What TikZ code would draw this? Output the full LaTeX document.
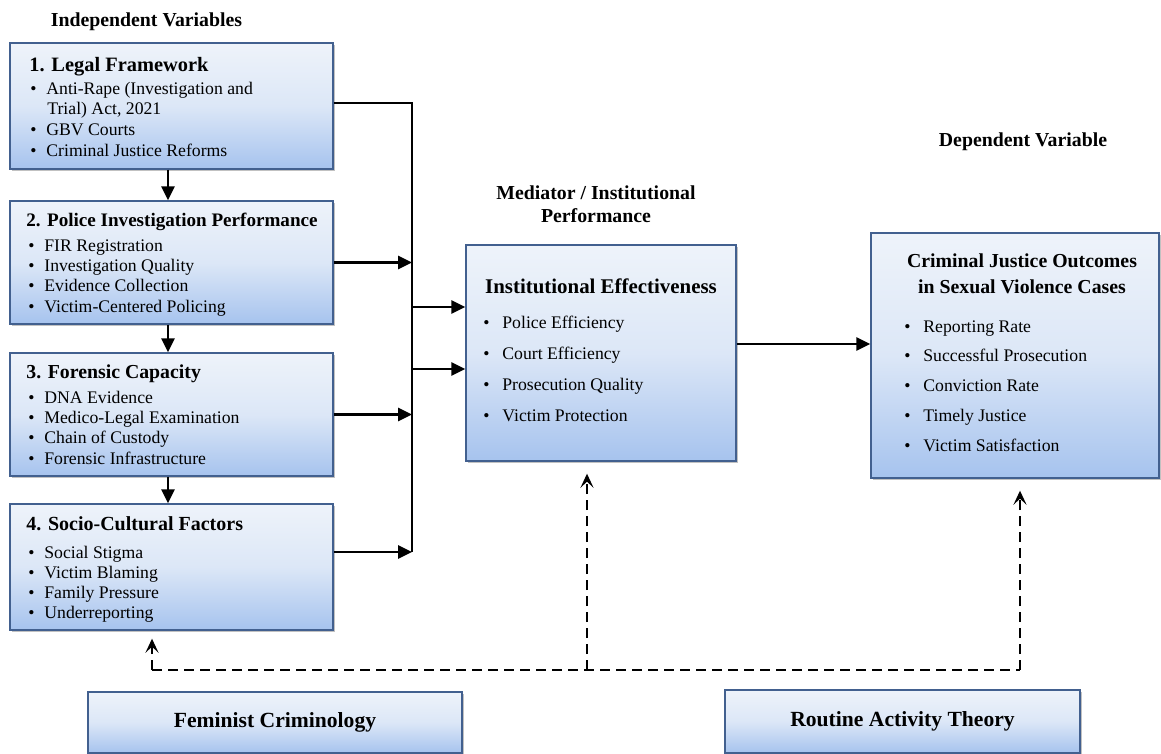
\documentclass[tikz,border=0pt]{standalone}
\usepackage{fontspec}
\setmainfont{Liberation Serif}
\usetikzlibrary{arrows.meta,shadows,calc}
\definecolor{boxtop}{HTML}{EEF3FA}
\definecolor{boxmid}{HTML}{DCE7F7}
\definecolor{boxbot}{HTML}{A6C3EE}
\definecolor{boxline}{HTML}{42608F}
\newcommand\bulA{\makebox[8pt][l]{\textbullet}}
\newcommand\bulB{\makebox[9.5pt][l]{\textbullet}}
\newcommand\itemlistA[5]{%
  \foreach \t [count=\i] in {#5} {\node[item] (#1-\i) at (#2,{#3+(\i-1)*#4}) {\bulA\t};}}
\newcommand\itemlistB[5]{%
  \foreach \t [count=\i] in {#5} {\node[item] (#1-\i) at (#2,{#3+(\i-1)*#4}) {\bulB\t};}}
\begin{document}
\begin{tikzpicture}[x=0.5pt,y=-0.5pt,
  box/.style={draw=boxline, line width=0.7pt, top color=boxtop, bottom color=boxbot, middle color=boxmid,
    drop shadow={shadow xshift=1pt, shadow yshift=-1.2pt, opacity=0.35, fill=black!70},
    inner sep=0pt, anchor=center},
  head/.style={font=\fontsize{10.2}{12}\bfseries, anchor=base west, inner sep=0pt},
  item/.style={font=\fontsize{8.85}{10}\selectfont, anchor=base west, inner sep=0pt},
  sect/.style={font=\fontsize{9.9}{12}\bfseries, anchor=base, inner sep=0pt},
  theory/.style={font=\fontsize{10.8}{13}\bfseries},
  line/.style={line width=1.3pt},
  arr/.style={line width=1.3pt, -{Triangle[length=7pt,width=6.5pt]}},
  dsh/.style={line width=1.1pt, dash pattern=on 5pt off 3pt},
  darr/.style={dsh, -{Stealth[length=7pt,width=6.5pt,inset=3pt]}}]
\useasboundingbox (0,0) rectangle (1161,754);

% section labels
\node[sect] (lind) at (146.5,27) {Independent Variables};
\node[sect] (lmed1) at (596,200) {Mediator / Institutional};
\node[sect] (lmed2) at (596,223) {Performance};
\node[sect] (ldep) at (1023,147) {Dependent Variable};

% left boxes
\node[box, minimum width=161.5pt, minimum height=63pt] (b1) at (171.5,106) {};
\node[box, minimum width=161.5pt, minimum height=61.5pt] (b2) at (171.5,262.5) {};
\node[box, minimum width=161.5pt, minimum height=61.5pt] (b3) at (171.5,414.5) {};
\node[box, minimum width=161.5pt, minimum height=63pt] (b4) at (171.5,567) {};

\node[head] (h1) at (29,72) {1. Legal Framework};
\node[item] (i1-1) at (30,95) {\bulA Anti-Rape (Investigation and};
\node[item] (i1-2) at (47,115) {Trial) Act, 2021};
\node[item] (i1-3) at (30,136) {\bulA GBV Courts};
\node[item] (i1-4) at (30,157) {\bulA Criminal Justice Reforms};

\node[head, font=\fontsize{9.55}{12}\bfseries] (h2) at (26,227) {2. Police Investigation Performance};
\itemlistA{i2}{28}{251}{20.4}{FIR Registration, Investigation Quality, Evidence Collection, Victim-Centered Policing}

\node[head, font=\fontsize{9.9}{12}\bfseries] (h3) at (26,378) {3. Forensic Capacity};
\itemlistA{i3}{28}{403}{20.4}{DNA Evidence, Medico-Legal Examination, Chain of Custody, Forensic Infrastructure}

\node[head, font=\fontsize{10}{12}\bfseries] (h4) at (26,530) {4. Socio-Cultural Factors};
\itemlistA{i4}{28}{558}{20}{Social Stigma, Victim Blaming, Family Pressure, Underreporting}

% mediator
\node[box, minimum width=135pt, minimum height=108pt] (med) at (601,353) {};
\node[head, anchor=base, font=\fontsize{10.45}{12}\bfseries] (hm) at (601,293) {Institutional Effectiveness};
\itemlistB{im}{483}{328}{31.3}{Police Efficiency, Court Efficiency, Prosecution Quality, Victim Protection}

% dependent
\node[box, minimum width=144pt, minimum height=122.5pt] (dep) at (1015,355.5) {};
\node[head, anchor=base, font=\fontsize{9.9}{12}\bfseries] (hd1) at (1022,268) {Criminal Justice Outcomes};
\node[head, anchor=base, font=\fontsize{9.9}{12}\bfseries] (hd2) at (1022,293) {in Sexual Violence Cases};
\itemlistB{id}{904}{332}{29.75}{Reporting Rate, Successful Prosecution, Conviction Rate, Timely Justice, Victim Satisfaction}

% theory boxes
\node[box, theory, minimum width=187pt, minimum height=30.5pt] (fem) at (275,722.5) {Feminist Criminology};
\node[box, theory, minimum width=177.5pt, minimum height=31.5pt] (rat) at (902.5,721.5) {Routine Activity Theory};

% solid connectors
\draw[arr] ([xshift=-1.75pt]b1.south) -- ([xshift=-1.75pt]b2.north);
\draw[arr] ([xshift=-1.75pt]b2.south) -- ([xshift=-1.75pt]b3.north);
\draw[arr] ([xshift=-1.75pt]b3.south) -- ([xshift=-1.75pt]b4.north);

\coordinate (bt) at (412,103);
\coordinate (bb) at (412,552);
\draw[line] ([yshift=1.5pt]b1.east) -- (bt) -- (bb);
\draw[arr] (b2.east) -- (b2.east -| bt);
\draw[arr] (b3.east) -- (b3.east -| bt);
\draw[arr] ([yshift=7.5pt]b4.east) -- ([yshift=7.5pt]b4.east -| bt);
\draw[arr] ([yshift=23pt]med.west -| bt) -- ([yshift=23pt]med.west);
\draw[arr] ([yshift=-8pt]med.west -| bt) -- ([yshift=-8pt]med.west);
\draw[arr] ([yshift=4.5pt]med.east) -- ([yshift=4.5pt]med.east -| dep.west);

% dashed connectors
\coordinate (dl) at (152,670);
\coordinate (dm) at (587,670);
\coordinate (dr) at (1020,670);
\draw[dsh] (dl) -- (dr);
\draw[darr] (dl) -- ([yshift=-4pt]b4.south -| dl);
\draw[darr] (dm) -- ([yshift=-6pt]med.south -| dm);
\draw[darr] (dr) -- ([yshift=-6pt]dep.south -| dr);
\end{tikzpicture}
\end{document}
